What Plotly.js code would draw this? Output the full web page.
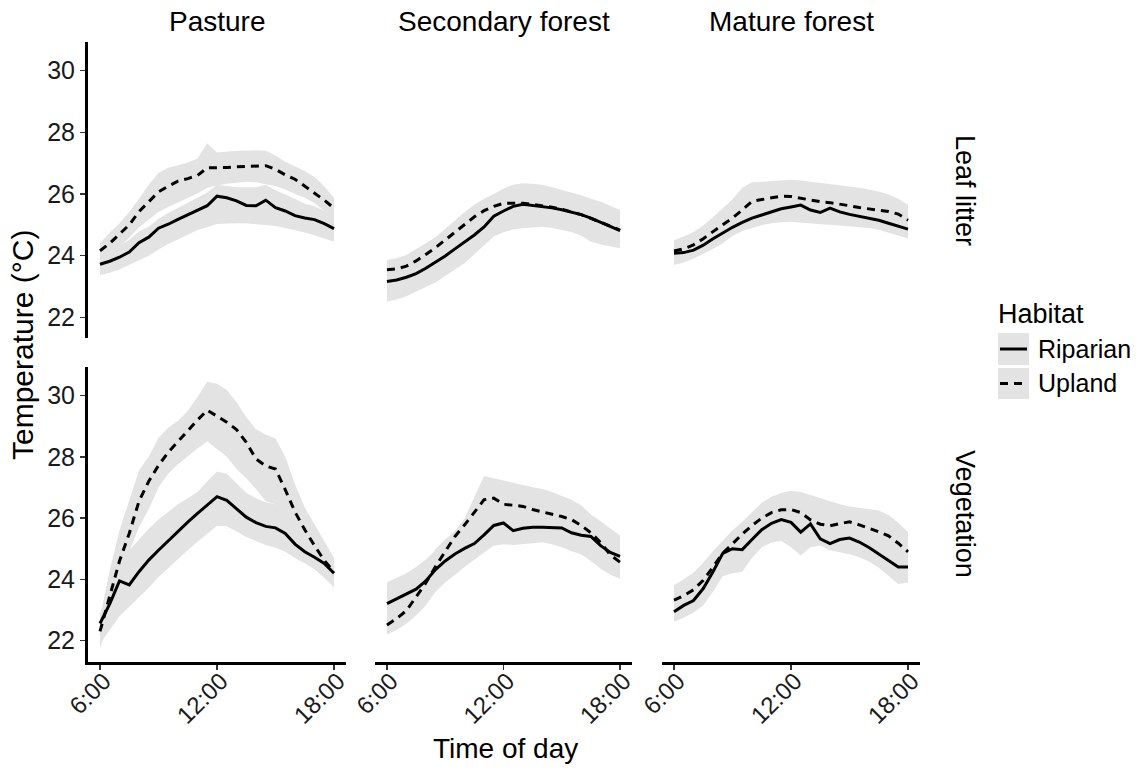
<!DOCTYPE html>
<html>
<head>
<meta charset="utf-8">
<script src="https://cdn.plot.ly/plotly-3.0.1.min.js"></script>
<style>
  html, body { margin: 0; padding: 0; background: #fff; }
  #chart { width: 1143px; height: 774px; }
</style>
</head>
<body>
<div id="chart"></div>
<script>
// Half-hourly sampling times (decimal hours)
const hours = [6, 6.5, 7, 7.5, 8, 8.5, 9, 9.5, 10, 10.5, 11, 11.5, 12,
               12.5, 13, 13.5, 14, 14.5, 15, 15.5, 16, 16.5, 17, 17.5, 18];

const sites = ['Pasture', 'Secondary forest', 'Mature forest'];
const strata = ['Leaf litter', 'Vegetation'];
const habitats = ['Riparian', 'Upland'];

const hourTicks = [6, 12, 18];
const hourLabels = ['6:00', '12:00', '18:00'];
const tempTicks = [22, 24, 26, 28, 30];

// Pasture, leaf litter
const pastureLitterRip   = [23.72,23.82,23.95,24.12,24.42,24.60,24.89,25.02,25.18,25.32,25.46,25.62,25.93,25.88,25.78,25.63,25.62,25.80,25.56,25.45,25.30,25.22,25.17,25.04,24.88];
const pastureLitterRipLo = [23.37,23.45,23.55,23.70,23.85,24.00,24.20,24.38,24.53,24.68,24.83,24.92,25.03,25.05,25.05,25.05,25.02,24.99,24.96,24.90,24.83,24.75,24.66,24.56,24.45];
const pastureLitterRipHi = [24.05,24.18,24.33,24.52,24.78,24.95,25.20,25.38,25.55,25.72,25.88,26.05,26.30,26.25,26.22,26.22,26.22,26.30,26.12,25.98,25.85,25.68,25.60,25.45,25.30];
const pastureLitterUpl   = [24.16,24.40,24.70,25.00,25.43,25.76,26.07,26.25,26.42,26.50,26.60,26.85,26.85,26.86,26.88,26.89,26.90,26.92,26.80,26.62,26.48,26.25,26.03,25.80,25.54];
const pastureLitterUplLo = [23.90,24.08,24.30,24.58,24.92,25.18,25.42,25.58,25.72,25.88,26.02,26.20,26.28,26.33,26.37,26.40,26.38,26.32,26.26,26.15,26.00,25.88,25.70,25.45,25.18];
const pastureLitterUplHi = [24.40,24.75,25.05,25.42,25.85,26.30,26.68,26.85,26.93,27.02,27.15,27.65,27.35,27.38,27.40,27.40,27.42,27.40,27.25,27.05,26.90,26.75,26.55,26.25,25.88];

// Secondary forest, leaf litter
const secLitterRip   = [23.16,23.21,23.30,23.42,23.59,23.78,23.99,24.22,24.44,24.67,24.93,25.28,25.45,25.60,25.67,25.63,25.60,25.55,25.49,25.42,25.33,25.22,25.09,24.95,24.81];
const secLitterRipLo = [22.51,22.58,22.68,22.82,22.98,23.13,23.33,23.55,23.76,24.04,24.33,24.62,24.76,24.85,24.89,24.92,24.94,24.90,24.84,24.77,24.65,24.45,24.36,24.30,24.24];
const secLitterRipHi = [23.56,23.61,23.70,23.82,23.99,24.18,24.39,24.62,24.84,25.07,25.33,25.68,25.85,26.00,26.07,26.03,26.00,25.95,25.89,25.82,25.73,25.62,25.49,25.35,25.21];
const secLitterUpl   = [23.54,23.57,23.66,23.83,24.04,24.26,24.51,24.77,25.02,25.26,25.46,25.60,25.70,25.70,25.70,25.66,25.62,25.57,25.51,25.43,25.33,25.21,25.08,24.95,24.83];
const secLitterUplLo = [23.14,23.17,23.26,23.43,23.64,23.86,24.11,24.37,24.62,24.86,25.06,25.20,25.30,25.30,25.30,25.26,25.22,25.17,25.11,25.03,24.93,24.81,24.68,24.55,24.43];
const secLitterUplHi = [23.86,23.92,24.02,24.20,24.40,24.60,24.88,25.15,25.42,25.65,25.85,26.00,26.18,26.30,26.35,26.33,26.30,26.22,26.14,26.05,25.96,25.85,25.75,25.62,25.48];

// Mature forest, leaf litter
const matLitterRip   = [24.08,24.10,24.18,24.34,24.55,24.74,24.92,25.08,25.22,25.32,25.41,25.52,25.58,25.64,25.48,25.40,25.54,25.42,25.34,25.27,25.21,25.15,25.05,24.95,24.86];
const matLitterRipLo = [23.70,23.78,23.90,24.06,24.22,24.40,24.64,24.80,24.90,24.99,25.05,25.08,25.10,25.08,25.05,25.02,25.00,24.99,24.96,24.93,24.90,24.84,24.76,24.66,24.56];
const matLitterRipHi = [24.45,24.48,24.56,24.73,24.94,25.13,25.31,25.47,25.61,25.71,25.80,25.91,25.97,26.03,25.87,25.79,25.93,25.81,25.73,25.66,25.60,25.54,25.44,25.34,25.25];
const matLitterUpl   = [24.15,24.22,24.35,24.55,24.78,25.00,25.22,25.48,25.76,25.82,25.88,25.93,25.92,25.86,25.80,25.75,25.72,25.68,25.62,25.56,25.52,25.48,25.43,25.35,25.15];
const matLitterUplLo = [23.80,23.86,23.98,24.17,24.39,24.60,24.82,25.07,25.35,25.42,25.48,25.53,25.52,25.46,25.40,25.35,25.32,25.28,25.22,25.16,25.12,25.08,25.03,24.95,24.75];
const matLitterUplHi = [24.50,24.62,24.77,24.98,25.25,25.55,25.83,26.20,26.38,26.40,26.42,26.44,26.46,26.44,26.40,26.37,26.34,26.30,26.24,26.20,26.15,26.08,25.98,25.85,25.64];

// Pasture, vegetation
const pastureVegRip   = [22.56,23.20,23.95,23.82,24.25,24.63,24.95,25.26,25.58,25.87,26.15,26.42,26.70,26.58,26.32,26.03,25.85,25.73,25.68,25.50,25.15,24.90,24.72,24.52,24.20];
const pastureVegRipLo = [21.90,22.35,22.80,23.13,23.42,23.73,24.08,24.38,24.67,24.95,25.23,25.50,25.75,25.73,25.56,25.38,25.25,25.12,25.03,24.90,24.70,24.53,24.33,24.05,23.75];
const pastureVegRipHi = [22.90,23.60,24.40,24.95,25.30,25.65,25.95,26.20,26.45,26.65,26.85,27.20,27.52,27.45,27.15,26.83,26.65,26.52,26.45,26.10,25.70,25.35,25.15,24.95,24.65];
const pastureVegUpl   = [22.30,23.45,24.60,25.50,26.55,27.20,27.72,28.15,28.50,28.88,29.20,29.52,29.32,29.13,28.89,28.47,27.93,27.70,27.60,26.93,26.20,25.62,25.10,24.62,24.24];
const pastureVegUplLo = [21.75,22.70,23.70,24.90,25.70,26.30,27.00,27.45,27.76,28.00,28.27,28.50,28.25,28.00,27.60,27.30,26.95,26.55,26.45,25.90,25.30,24.90,24.45,24.05,23.75];
const pastureVegUplHi = [22.75,24.30,25.60,26.60,27.55,28.00,28.62,28.95,29.18,29.50,29.95,30.45,30.38,30.18,29.78,29.30,28.90,28.72,28.60,28.00,27.10,26.35,25.80,25.25,24.70];

// Secondary forest, vegetation
const secVegRip   = [23.21,23.37,23.53,23.68,23.95,24.32,24.60,24.83,25.01,25.17,25.45,25.76,25.84,25.59,25.67,25.70,25.70,25.70,25.68,25.52,25.44,25.40,25.10,24.88,24.75];
const secVegRipLo = [22.60,22.78,22.95,23.10,23.30,23.60,23.90,24.15,24.40,24.65,24.88,25.10,25.15,25.12,25.15,25.18,25.21,25.15,25.05,24.92,24.82,24.60,24.35,24.15,24.02];
const secVegRipHi = [23.91,24.05,24.20,24.40,24.65,24.95,25.20,25.40,25.55,25.70,25.95,26.25,26.35,26.15,26.20,26.22,26.22,26.22,26.20,26.05,25.98,25.92,25.65,25.42,25.30];
const secVegUpl   = [22.51,22.72,22.98,23.42,23.88,24.42,24.92,25.40,25.78,26.20,26.60,26.65,26.45,26.42,26.38,26.28,26.20,26.14,26.05,25.95,25.76,25.52,25.20,24.80,24.56];
const secVegUplLo = [22.20,22.35,22.55,22.82,23.15,23.60,24.05,24.60,25.10,25.50,25.85,25.95,25.80,25.80,25.78,25.70,25.64,25.58,25.50,25.40,25.20,24.95,24.60,24.25,24.05];
const secVegUplHi = [22.90,23.15,23.45,23.90,24.40,25.00,25.30,25.58,26.00,26.70,27.37,27.30,27.22,27.15,27.08,27.01,26.95,26.85,26.72,26.60,26.42,26.12,25.90,25.65,25.43];

// Mature forest, vegetation
const matVegRip   = [22.94,23.15,23.31,23.70,24.25,24.85,25.00,24.97,25.30,25.62,25.83,25.95,25.86,25.54,25.81,25.32,25.17,25.30,25.35,25.22,25.04,24.82,24.60,24.40,24.40];
const matVegRipLo = [22.62,22.75,22.92,23.15,23.60,24.10,24.20,24.25,24.70,25.05,25.20,25.25,25.05,24.78,25.05,25.10,24.95,24.88,24.82,24.72,24.58,24.38,24.12,23.85,23.90];
const matVegRipHi = [23.30,23.50,23.70,24.10,24.65,25.25,25.40,25.37,25.70,26.00,26.20,26.32,26.25,25.95,26.20,25.75,25.58,25.70,25.75,25.62,25.45,25.22,25.00,24.80,24.80];
const matVegUpl   = [23.32,23.47,23.66,23.97,24.40,24.86,25.16,25.48,25.76,26.00,26.18,26.27,26.28,26.18,25.94,25.80,25.75,25.82,25.88,25.78,25.67,25.55,25.42,25.18,24.90];
const matVegUplLo = [22.87,23.02,23.21,23.52,23.95,24.41,24.71,25.03,25.31,25.55,25.73,25.82,25.83,25.73,25.49,25.35,25.30,25.37,25.43,25.33,25.22,25.10,24.97,24.73,24.45];
const matVegUplHi = [23.81,24.00,24.22,24.55,24.92,25.25,25.60,25.88,26.20,26.50,26.70,26.82,26.89,26.85,26.75,26.65,26.55,26.45,26.38,26.33,26.30,26.25,26.10,25.85,25.54];

// Facet table: row = stratum, col = site
const panels = [
  { row: 0, col: 0, rip: [pastureLitterRip, pastureLitterRipLo, pastureLitterRipHi], upl: [pastureLitterUpl, pastureLitterUplLo, pastureLitterUplHi] },
  { row: 0, col: 1, rip: [secLitterRip, secLitterRipLo, secLitterRipHi],             upl: [secLitterUpl, secLitterUplLo, secLitterUplHi] },
  { row: 0, col: 2, rip: [matLitterRip, matLitterRipLo, matLitterRipHi],             upl: [matLitterUpl, matLitterUplLo, matLitterUplHi] },
  { row: 1, col: 0, rip: [pastureVegRip, pastureVegRipLo, pastureVegRipHi],          upl: [pastureVegUpl, pastureVegUplLo, pastureVegUplHi] },
  { row: 1, col: 1, rip: [secVegRip, secVegRipLo, secVegRipHi],                      upl: [secVegUpl, secVegUplLo, secVegUplHi] },
  { row: 1, col: 2, rip: [matVegRip, matVegRipLo, matVegRipHi],                      upl: [matVegUpl, matVegUplLo, matVegUplHi] }
];

// Figure geometry (pixels)
const W = 1143, H = 774;
const colPx = [[88, 346], [375, 632], [662, 920]];
const rowPx = [[41.7, 338.3], [366.7, 661.5]];
const px = p => p / W;
const py = p => 1 - p / H;

const FONT = 'Liberation Sans, Arial, sans-serif';
const BAND = 'rgb(227,227,227)';
const DASH = '8px,6px';

const traces = [];
const layout = {
  width: W, height: H,
  margin: { l: 0, r: 0, t: 0, b: 0 },
  paper_bgcolor: '#fff', plot_bgcolor: '#fff',
  showlegend: false,
  font: { family: FONT, color: '#000' },
  annotations: [], shapes: []
};

panels.forEach((p, i) => {
  const n = i + 1;
  const sfx = n === 1 ? '' : String(n);
  const xa = 'x' + sfx, ya = 'y' + sfx;
  const backX = hours.concat(hours.slice().reverse());

  [p.rip, p.upl].forEach(s => {
    traces.push({
      type: 'scatter', mode: 'lines', xaxis: xa, yaxis: ya,
      x: backX, y: s[2].concat(s[1].slice().reverse()),
      fill: 'toself', fillcolor: BAND, line: { width: 0 }, hoverinfo: 'skip'
    });
  });
  traces.push({
    type: 'scatter', mode: 'lines', xaxis: xa, yaxis: ya, name: habitats[0],
    x: hours, y: p.rip[0], line: { color: '#000', width: 3 }
  });
  traces.push({
    type: 'scatter', mode: 'lines', xaxis: xa, yaxis: ya, name: habitats[1],
    x: hours, y: p.upl[0], line: { color: '#000', width: 3, dash: DASH }
  });

  const bottom = p.row === 1, left = p.col === 0;
  layout['xaxis' + sfx] = {
    domain: [px(colPx[p.col][0]), px(colPx[p.col][1])],
    range: [5.385, 18.615], anchor: ya,
    showgrid: false, zeroline: false, fixedrange: true,
    showline: bottom, linecolor: '#000', linewidth: 3,
    ticks: bottom ? 'outside' : '', ticklen: 5, tickwidth: 1.5, tickcolor: '#333',
    tickmode: 'array', tickvals: hourTicks, ticktext: hourLabels,
    tickangle: -45, showticklabels: bottom,
    ticklabelstandoff: -12, ticklabelshift: 4,
    tickfont: { family: FONT, size: 24, color: '#1a1a1a' }
  };
  layout['yaxis' + sfx] = {
    domain: [py(rowPx[p.row][1]), py(rowPx[p.row][0])],
    range: [21.32, 30.94], anchor: xa,
    showgrid: false, zeroline: false, fixedrange: true,
    showline: left, linecolor: '#000', linewidth: 3,
    ticks: left ? 'outside' : '', ticklen: 5, tickwidth: 1.5, tickcolor: '#333',
    tickmode: 'array', tickvals: tempTicks, showticklabels: left,
    tickfont: { family: FONT, size: 25, color: '#1a1a1a' }
  };
});

// Facet strip labels
sites.forEach((s, c) => {
  layout.annotations.push({
    xref: 'paper', yref: 'paper', x: px((colPx[c][0] + colPx[c][1]) / 2), y: py(22),
    text: s, showarrow: false, xanchor: 'center', yanchor: 'middle',
    font: { family: FONT, size: 28, color: '#000' }
  });
});
strata.forEach((s, r) => {
  layout.annotations.push({
    xref: 'paper', yref: 'paper', x: px(965), y: py((rowPx[r][0] + rowPx[r][1]) / 2),
    text: s, showarrow: false, textangle: 90, xanchor: 'center', yanchor: 'middle',
    font: { family: FONT, size: 27, color: '#000' }
  });
});

// Axis titles
layout.annotations.push({
  xref: 'paper', yref: 'paper', x: px(22), y: py(345), text: 'Temperature (°C)',
  showarrow: false, textangle: -90, xanchor: 'center', yanchor: 'middle',
  font: { family: FONT, size: 30, color: '#000' }
});
layout.annotations.push({
  xref: 'paper', yref: 'paper', x: px(505), y: py(748), text: 'Time of day',
  showarrow: false, xanchor: 'center', yanchor: 'middle',
  font: { family: FONT, size: 28, color: '#000' }
});

// Legend
layout.annotations.push({
  xref: 'paper', yref: 'paper', x: px(996), y: py(314), text: 'Habitat',
  showarrow: false, xanchor: 'left', yanchor: 'middle',
  font: { family: FONT, size: 27, color: '#000' }
});
const keyRows = [{ y0: 333, y1: 365, dash: 'solid' }, { y0: 368, y1: 399, dash: DASH }];
keyRows.forEach((k, j) => {
  const yc = (k.y0 + k.y1) / 2;
  layout.shapes.push({
    type: 'rect', xref: 'paper', yref: 'paper',
    x0: px(998), x1: px(1029), y0: py(k.y1), y1: py(k.y0),
    fillcolor: BAND, line: { width: 0 }
  });
  layout.shapes.push({
    type: 'line', xref: 'paper', yref: 'paper',
    x0: px(1000), x1: px(1027), y0: py(yc), y1: py(yc),
    line: { color: '#000', width: 3, dash: k.dash }
  });
  layout.annotations.push({
    xref: 'paper', yref: 'paper', x: px(1036), y: py(yc), text: habitats[j],
    showarrow: false, xanchor: 'left', yanchor: 'middle',
    font: { family: FONT, size: 25, color: '#000' }
  });
});

Plotly.newPlot('chart', traces, layout, { staticPlot: true, displayModeBar: false });
</script>
</body>
</html>
